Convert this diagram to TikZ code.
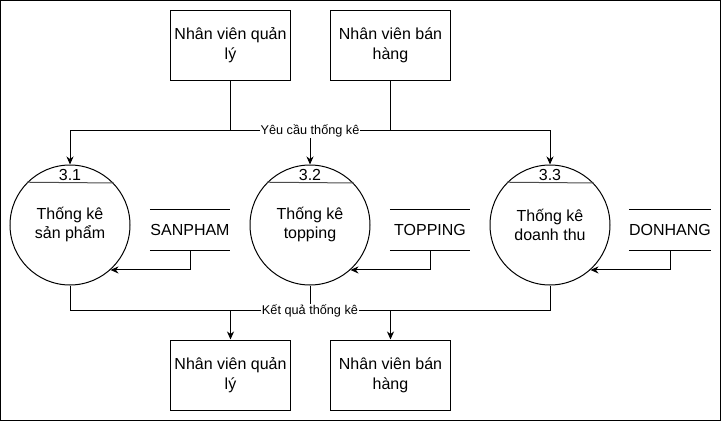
\documentclass[tikz,border=0pt]{standalone}
\usepackage{fontspec}
\setmainfont{Liberation Sans}
\usetikzlibrary{arrows.meta}
\begin{document}
\begin{tikzpicture}[x=1pt,y=-1pt,
  ext/.style={draw, line width=1pt, minimum width=120pt, minimum height=70pt, align=center, font=\fontsize{16}{20}\selectfont, inner sep=0pt},
  proc/.style={draw, circle, line width=1pt, minimum size=120pt, inner sep=0pt, align=center, font=\fontsize{16}{19}\selectfont},
  store/.style={minimum width=80pt, minimum height=40pt, inner sep=0pt, font=\fontsize{16}{19}\selectfont},
  num/.style={font=\fontsize{16}{18}\selectfont, inner sep=0pt},
  flowlbl/.style={fill=white, inner sep=1pt, font=\fontsize{12.7}{15}\selectfont},
  conn/.style={line width=1pt},
  arr/.style={conn, -{Stealth[length=8pt,width=7pt,inset=2.5pt]}},
  sepline/.style={line width=1pt, black!70}
]
\useasboundingbox (0,0) rectangle (721,421);
\draw[conn] (0.5,0.5) rectangle (720.5,420.5);

% external entities
\node[ext] (m1) at (230.5,45) {Nhân viên quản\\lý};
\node[ext] (m2) at (390.5,45) {Nhân viên bán\\hàng};
\node[ext] (b1) at (230.5,375) {Nhân viên quản\\lý};
\node[ext] (b2) at (390.5,375) {Nhân viên bán\\hàng};

% processes
\node[proc] (p1) at (70,225) {Thống kê\\sản phẩm};
\node[proc] (p2) at (310,225) {Thống kê\\topping};
\node[proc] (p3) at (550,225) {Thống kê\\doanh thu};
\draw[sepline] (p1.135.5) -- (p1.44.5);
\draw[sepline] (p2.135.5) -- (p2.44.5);
\draw[sepline] (p3.135.5) -- (p3.44.5);
\node[num] (n1) at (70,175) {3.1};
\node[num] (n2) at (310,175) {3.2};
\node[num] (n3) at (550,175) {3.3};

% data stores
\node[store] (s1) at (190,230) {SANPHAM};
\node[store] (s2) at (430,230) {TOPPING};
\node[store] (s3) at (670,230) {DONHANG};
\foreach \s in {s1,s2,s3}{
  \draw[conn] (\s.north west) -- (\s.north east);
  \draw[conn] (\s.south west) -- (\s.south east);
}
\draw[arr] (s1.south) |- (p1.-48.6);
\draw[arr] (s2.south) |- (p2.-48.6);
\draw[arr] (s3.south) |- (p3.-48.6);

% top flows
\coordinate (ytop) at (0,130);
\coordinate (ybot) at (0,310);
\draw[arr] (m1.south) -- (m1.south |- ytop) -| (p1.north);
\draw[arr] (m2.south) -- (m2.south |- ytop) -| (p3.north);
\draw[conn] (m1.south |- ytop) -- (m2.south |- ytop);
\node[flowlbl] (yc) at (310,131) {Yêu cầu thống kê};
\draw[arr] (yc.south) -- (p2.north);

% bottom flows
\draw[conn] (p1.south) |- (p3.south |- ybot) -- (p3.south);
\draw[arr] (b1.north |- ybot) -- (b1.north);
\draw[arr] (b2.north |- ybot) -- (b2.north);
\node[flowlbl] (kq) at (310,311) {Kết quả thống kê};
\draw[conn] (p2.south) -- (kq.north);
\end{tikzpicture}
\end{document}
